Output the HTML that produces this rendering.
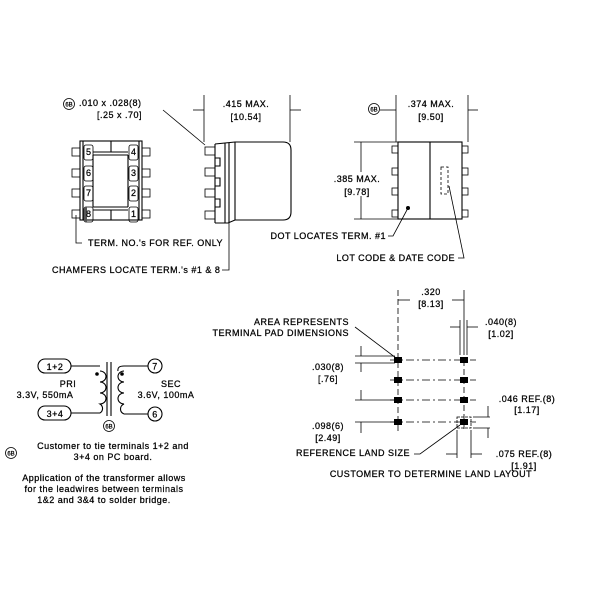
<!DOCTYPE html>
<html><head><style>
html,body{margin:0;padding:0;background:#fff;}
svg{display:block;}
text{font-family:"Liberation Sans",sans-serif;font-size:9px;fill:#000;letter-spacing:0.5px;stroke:#000;stroke-width:0.25;}
.m{text-anchor:middle;}
.e{text-anchor:end;}
.c{font-size:6px;letter-spacing:0;text-anchor:middle;}
.s{stroke:#000;fill:none;stroke-width:1.1;}
.t{stroke:#000;fill:none;stroke-width:0.8;}
</style></head><body>
<svg width="600" height="600" viewBox="0 0 600 600" xmlns="http://www.w3.org/2000/svg">
<!-- ===== Left top view ===== -->
<g class="s">
<rect x="80" y="141" width="62" height="79"/>
<line x1="83" y1="141" x2="83" y2="220"/><line x1="139" y1="141" x2="139" y2="220"/>
<line x1="93" y1="152" x2="128" y2="152"/><line x1="93" y1="155" x2="128" y2="155"/>
<line x1="93" y1="207" x2="128" y2="207"/><line x1="93" y1="210" x2="128" y2="210"/>
<line x1="93" y1="155" x2="93" y2="207"/><line x1="128" y1="155" x2="128" y2="207"/>
<line x1="111" y1="141" x2="111" y2="152"/><line x1="111" y1="210" x2="111" y2="220"/>
</g>
<g class="t">
<rect x="72" y="148" width="8" height="8"/><rect x="72" y="169" width="8" height="8"/><rect x="72" y="189" width="8" height="8"/><rect x="72" y="210" width="8" height="8"/>
<rect x="142" y="148" width="8" height="8"/><rect x="142" y="169" width="8" height="8"/><rect x="142" y="189" width="8" height="8"/><rect x="142" y="210" width="8" height="8"/>
<rect x="84" y="145" width="9" height="15" rx="2"/><rect x="84" y="166" width="9" height="15" rx="2"/><rect x="84" y="186" width="9" height="15" rx="2"/><rect x="84" y="207" width="9" height="15" rx="2"/>
<rect x="129" y="145" width="9" height="15" rx="2"/><rect x="129" y="166" width="9" height="15" rx="2"/><rect x="129" y="186" width="9" height="15" rx="2"/><rect x="129" y="207" width="9" height="15" rx="2"/>
</g>
<rect x="84" y="207" width="3" height="15" fill="#555"/>
<g style="font-size:7px">
<text x="86" y="155">5</text><text x="86" y="176">6</text><text x="86" y="196">7</text><text x="86" y="217">8</text>
<text x="131" y="155">4</text><text x="131" y="176">3</text><text x="131" y="196">2</text><text x="131" y="217">1</text>
</g>
<!-- ===== Side view ===== -->
<g class="s">
<path d="M215,144 L235,142 L283,142 Q291,142 291,150 L291,212 Q291,220 283,220 L235,220 L228,223 L215,223"/>
<line x1="235" y1="142" x2="235" y2="220"/>
<line x1="229" y1="143" x2="229" y2="222"/><line x1="225" y1="143" x2="225" y2="223"/>
<path d="M215,144 L215,223"/>
<path d="M215,158 h5 v8 h-5 M215,178 h5 v8 h-5 M215,199 h5 v8 h-5"/>
</g>
<g class="t">
<rect x="205" y="147" width="10" height="8"/><rect x="205" y="168" width="10" height="8"/><rect x="205" y="189" width="10" height="8"/><rect x="205" y="211" width="10" height="8"/>
<line x1="204" y1="95" x2="204" y2="142"/><line x1="290" y1="95" x2="290" y2="142"/>
<line x1="193" y1="110" x2="204" y2="110"/><line x1="290" y1="110" x2="301" y2="110"/>
<path d="M163,110 L205,145"/>
<path d="M76,215 L76,243 L82,243"/>
<path d="M222,270 L229,270 L229,222"/>
</g>
<text x="79" y="106">.010 x .028(8)</text><text x="97" y="118">[.25 x .70]</text>
<circle cx="69" cy="104" r="5.5" class="t"/><text x="69" y="106.5" class="c">6B</text>
<text x="246" y="107" class="m">.415 MAX.</text><text x="246" y="120" class="m">[10.54]</text>
<text x="88" y="246">TERM. NO.'s FOR REF. ONLY</text>
<text x="52" y="273">CHAMFERS LOCATE TERM.'s #1 &amp; 8</text>
<!-- ===== Right view ===== -->
<g class="s">
<rect x="398" y="142" width="64" height="77"/>
<line x1="430" y1="142" x2="430" y2="219"/>
</g>
<g class="t">
<rect x="392" y="146" width="6" height="7"/><rect x="392" y="168" width="6" height="7"/><rect x="392" y="188" width="6" height="7"/><rect x="392" y="210" width="6" height="7"/>
<rect x="462" y="146" width="6" height="7"/><rect x="462" y="168" width="6" height="7"/><rect x="462" y="188" width="6" height="7"/><rect x="462" y="210" width="6" height="7"/>
<rect x="441" y="167" width="7" height="27" stroke-dasharray="3,2"/>
<line x1="396" y1="95" x2="396" y2="142"/><line x1="468" y1="95" x2="468" y2="142"/>
<line x1="380" y1="110" x2="396" y2="110"/><line x1="468" y1="110" x2="478" y2="110"/>
<line x1="354" y1="142" x2="398" y2="142"/><line x1="354" y1="219" x2="398" y2="219"/>
<line x1="361" y1="142" x2="361" y2="172"/><line x1="361" y1="196" x2="361" y2="219"/>
<path d="M388,236 L393,236 L408,208"/>
<path d="M458,258 L464,258 L449,186"/>
</g>
<circle cx="408" cy="208" r="2" fill="#000"/>
<circle cx="374" cy="109" r="5.5" class="t"/><text x="374" y="111.5" class="c">6B</text>
<text x="431" y="107" class="m">.374 MAX.</text><text x="431" y="120" class="m">[9.50]</text>
<text x="357" y="182" class="m">.385 MAX.</text><text x="357" y="195" class="m">[9.78]</text>
<text x="386" y="239" class="e">DOT LOCATES TERM. #1</text>
<text x="455" y="261" class="e">LOT CODE &amp; DATE CODE</text>
<!-- ===== Schematic ===== -->
<g class="s">
<rect x="38" y="359" width="33" height="14" rx="7"/>
<rect x="38" y="406" width="33" height="14" rx="7"/>
<circle cx="155" cy="366" r="7"/><circle cx="155" cy="414" r="7"/>
<path d="M71,366 L100,366 M71,413 L100,413"/>
<path d="M100,371 a6,5.5 0 0 1 0,11 a6,5.5 0 0 1 0,11 a6,5.5 0 0 1 0,11 a6,5.5 0 0 1 0,9"/>
<line x1="107" y1="362" x2="107" y2="416"/><line x1="111" y1="362" x2="111" y2="416"/>
<path d="M148,366 L124,366 Q117,366 118,371 M148,414 L124,414"/>
<path d="M124,371 a6,5.5 0 0 0 0,11 a6,5.5 0 0 0 0,11 a6,5.5 0 0 0 0,11 a6,5.5 0 0 0 0,10"/>
</g>
<circle cx="97" cy="374" r="1.8" fill="#000"/><circle cx="122" cy="374" r="1.8" fill="#000"/>
<text x="55" y="370" class="m">1+2</text><text x="55" y="417" class="m">3+4</text>
<text x="155" y="369.5" class="m">7</text><text x="155" y="417.5" class="m">6</text>
<text x="68" y="387" class="m">PRI</text><text x="45" y="398" class="m">3.3V, 550mA</text>
<text x="171" y="387" class="m">SEC</text><text x="166" y="398" class="m">3.6V, 100mA</text>
<circle cx="109" cy="426" r="5.5" class="t"/><text x="109" y="428.5" class="c">6B</text>
<circle cx="11" cy="453" r="5.5" class="t"/><text x="11" y="455.5" class="c">6B</text>
<text x="113" y="449" class="m">Customer to tie terminals 1+2 and</text>
<text x="113" y="460" class="m">3+4 on PC board.</text>
<text x="104" y="481" class="m">Application of the transformer allows</text>
<text x="104" y="492" class="m">for the leadwires between terminals</text>
<text x="104" y="503" class="m">1&amp;2 and 3&amp;4 to solder bridge.</text>
<!-- ===== Land pattern ===== -->
<g class="t">
<line x1="398" y1="290" x2="398" y2="432" stroke-dasharray="6,3"/>
<line x1="464" y1="290" x2="464" y2="355"/>
<line x1="464" y1="360" x2="464" y2="432" stroke-dasharray="6,3"/>
<line x1="398" y1="300" x2="410" y2="300"/><line x1="452" y1="300" x2="464" y2="300"/>
<g stroke-dasharray="8,3,2,3">
<line x1="390" y1="360" x2="476" y2="360"/><line x1="390" y1="380" x2="476" y2="380"/>
<line x1="390" y1="400" x2="476" y2="400"/><line x1="390" y1="422" x2="476" y2="422"/>
</g>
<line x1="460" y1="320" x2="460" y2="355"/><line x1="467" y1="320" x2="467" y2="355"/>
<line x1="450" y1="327" x2="460" y2="327"/><line x1="467" y1="327" x2="478" y2="327"/>
<path d="M355,327 L396,358"/>
<line x1="355" y1="356" x2="395" y2="356"/><line x1="355" y1="363" x2="395" y2="363"/>
<line x1="361" y1="346" x2="361" y2="356"/><line x1="361" y1="363" x2="361" y2="372"/>
<line x1="355" y1="400" x2="395" y2="400"/><line x1="355" y1="422" x2="395" y2="422"/>
<line x1="361" y1="390" x2="361" y2="400"/><line x1="361" y1="422" x2="361" y2="433"/>
<rect x="457" y="417" width="14" height="11" stroke-dasharray="3,1"/>
<line x1="473" y1="417" x2="490" y2="417"/><line x1="473" y1="428" x2="490" y2="428"/>
<line x1="488" y1="406" x2="488" y2="417"/><line x1="488" y1="428" x2="488" y2="438"/>
<line x1="457" y1="430" x2="457" y2="458"/><line x1="471" y1="430" x2="471" y2="458"/>
<line x1="446" y1="454" x2="457" y2="454"/><line x1="471" y1="454" x2="482" y2="454"/>
<path d="M414,454 L420,454 L460,425"/>
</g>
<g fill="#000">
<rect x="394" y="357" width="8" height="6"/><rect x="460" y="357" width="8" height="6"/>
<rect x="394" y="377" width="8" height="6"/><rect x="460" y="377" width="8" height="6"/>
<rect x="394" y="397" width="8" height="6"/><rect x="460" y="397" width="8" height="6"/>
<rect x="394" y="419" width="8" height="6"/><rect x="460" y="419" width="8" height="6"/>
</g>
<text x="431" y="295" class="m">.320</text><text x="431" y="307" class="m">[8.13]</text>
<text x="501" y="325" class="m">.040(8)</text><text x="501" y="337" class="m">[1.02]</text>
<text x="349" y="325" class="e">AREA REPRESENTS</text><text x="349" y="336" class="e">TERMINAL PAD DIMENSIONS</text>
<text x="328" y="370" class="m">.030(8)</text><text x="328" y="382" class="m">[.76]</text>
<text x="527" y="402" class="m">.046 REF.(8)</text><text x="527" y="413" class="m">[1.17]</text>
<text x="328" y="429" class="m">.098(6)</text><text x="328" y="441" class="m">[2.49]</text>
<text x="410" y="456" class="e">REFERENCE LAND SIZE</text>
<text x="524" y="457" class="m">.075 REF.(8)</text><text x="524" y="469" class="m">[1.91]</text>
<text x="431" y="477" class="m">CUSTOMER TO DETERMINE LAND LAYOUT</text>
</svg>
</body></html>
